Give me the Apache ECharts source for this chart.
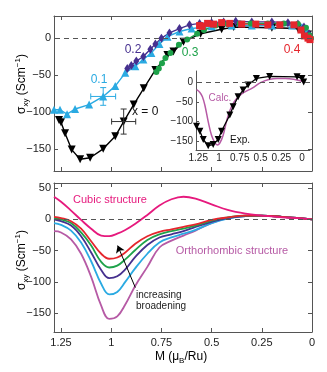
<!DOCTYPE html>
<html>
<head>
<meta charset="utf-8">
<script src="https://cdn.jsdelivr.net/npm/echarts@6/dist/echarts.min.js"></script>
<style>
  html, body { margin: 0; padding: 0; background: #fff; }
  #chart { width: 327px; height: 372px; }
</style>
</head>
<body>
<div id="chart"></div>
<script>
// top panel: measured sigma_xy vs M for several x
var x0M = [1.26, 1.25, 1.23, 1.197, 1.155, 1.105, 1.04, 0.98, 0.938, 0.888, 0.838, 0.78, 0.72, 0.69, 0.64, 0.555, 0.45, 0.39, 0.2, 0.07, 0.02];
var x0S = [-111, -114, -129, -151, -164, -162, -150, -133, -113, -90, -68, -43, -23, -18, -5, 6, 12, 15, 14, 13, 5];
var x1M = [1.285, 1.255, 1.22, 1.18, 1.11, 1.04, 0.98, 0.93, 0.88, 0.84, 0.8, 0.76, 0.72, 0.66, 0.6, 0.5, 0.4, 0.3, 0.2, 0.1, 0.05, 0.025, 0.01];
var x1S = [-97, -97, -103, -96, -90, -79, -65, -47, -38, -29, -20, -8, 2, 9, 13, 16, 17, 17, 17, 17, 15, 9, 3];
var x2M = [0.92, 0.9, 0.875, 0.84, 0.805, 0.78, 0.75, 0.71, 0.66, 0.61, 0.56, 0.5, 0.44, 0.38, 0.3, 0.2, 0.12, 0.07, 0.04, 0.015];
var x2S = [-41, -37, -31, -25, -15, -8, 0, 7, 13, 18, 20, 21, 22, 23, 22, 22, 21, 19, 15, 6];
var x3M = [0.775, 0.763, 0.747, 0.73, 0.705, 0.663, 0.622, 0.572, 0.538, 0.48, 0.42, 0.36, 0.305, 0.22, 0.14, 0.07, 0.03, 0.013, 0.005];
var x3S = [-46, -41, -34, -27, -20, -9, -2, 6, 11, 17, 19, 20, 20, 20, 20, 19, 14, 4, 0];
var x4M = [0.56, 0.547, 0.52, 0.49, 0.45, 0.41, 0.35, 0.28, 0.22, 0.16, 0.09, 0.055, 0.038, 0.02, 0.01];
var x4S = [17, 16, 20, 19, 21, 20, 19, 19, 18, 18, 18, 11, 3, 0, -2];

// error bars [M, sigma, dM, dSigma]
var errCyan = [1.04, -79, 0.062, 12];
var errBlack = [0.938, -113, 0.06, 17];

// inset: experiment vs calculation
var expM = [1.27, 1.23, 1.19, 1.13, 1.07, 1.01, 0.97, 0.87, 0.83, 0.77, 0.71, 0.65, 0.55, 0.39, 0.06, 0.0, -0.02];
var expS = [-112, -125, -146, -162, -159, -146, -125, -83, -62, -36, -19, -6, 11, 16, 15, 11, 2];
var calcM = [1.27, 1.23, 1.2, 1.17, 1.13, 1.09, 1.05, 1.02, 0.99, 0.95, 0.91, 0.87, 0.82, 0.76, 0.7, 0.6, 0.5, 0.4, 0.3, 0.2, 0.1, 0.02, -0.02];
var calcS = [-18, -25, -36, -58, -100, -135, -154, -160, -155, -135, -100, -72, -50, -35, -25, -14, 0, 8, 11, 11, 9, 5, 1];

// bottom panel: calculated curves
var bM = [1.285, 1.25, 1.2, 1.15, 1.1, 1.05, 1.01, 0.97, 0.93, 0.88, 0.82, 0.76, 0.7, 0.64, 0.58, 0.5, 0.42, 0.33, 0.25, 0.15, 0.07, 0];
var cubicS = [36, 28, 14, -1, -15, -26, -27, -23, -17, -7, 7, 22, 32, 36, 33, 24, 15, 9, 6, 3, 2, 0];
var redS = [4, 2, -3, -15, -35, -55, -63, -61, -53, -39, -27, -20, -16, -12, -8, -1, 3, 6, 6, 4, 2, 0];
var greenS = [2, 0, -6, -21, -42, -68, -77, -74, -64, -49, -33, -24, -19, -15, -10, -2, 3, 6, 6, 4, 2, 0];
var indigoS = [0, -3, -10, -27, -53, -81, -94, -91, -80, -60, -41, -29, -24, -19, -12, -4, 2, 5, 6, 4, 2, 0];
var cyanS = [-6, -9, -18, -37, -67, -103, -120, -116, -100, -78, -55, -37, -29, -23, -17, -6, 1, 5, 6, 4, 2, 0];
var orthoS = [-19, -21, -32, -55, -92, -138, -159, -155, -136, -106, -76, -45, -34, -26, -18, -6, 2, 6, 6, 4, 2, 0];

var mTicks = [0, 0.25, 0.5, 0.75, 1, 1.25];
var topTicks = [-150, -100, -50, 0];
var botTicks = [-150, -100, -50, 0, 50];

var C = {
  black: '#000000',
  cyan: '#2aaae2',
  indigo: '#46308f',
  green: '#1ea24a',
  red: '#e5262d',
  pink: '#e6197d',
  orchid: '#b65aa5'
};
var FONT = '"Liberation Sans", Arial, Helvetica, sans-serif';
var axisColor = '#555';

function zip(xs, ys) {
  return xs.map(function(x, i) { return [x, ys[i]]; });
}
function fmt(v) {
  return v < 0 ? '\u2212' + (-v) : String(v);
}
function xAx(grid, pos, min, max, labels, ticks) {
  return {
    type: 'value', gridIndex: grid, position: pos, inverse: true, min: min, max: max,
    axisLine: { show: true, onZero: false, lineStyle: { color: axisColor } },
    axisTick: { show: ticks, inside: true, length: 4, customValues: mTicks, lineStyle: { color: axisColor } },
    axisLabel: { show: labels, customValues: mTicks, formatter: fmt, color: '#222', fontSize: grid === 2 ? 10 : 11, margin: grid === 2 ? 3 : 5, fontFamily: FONT },
    splitLine: { show: false }
  };
}
function yAx(grid, pos, min, max, vals, labels, ticks) {
  return {
    type: 'value', gridIndex: grid, position: pos, min: min, max: max,
    axisLine: { show: true, onZero: false, lineStyle: { color: axisColor } },
    axisTick: { show: ticks, inside: true, length: grid === 2 ? 3 : 4, customValues: vals, lineStyle: { color: axisColor } },
    axisLabel: { show: labels, customValues: vals, formatter: fmt, color: '#222', fontSize: grid === 2 ? 10 : 11, margin: 3, fontFamily: FONT },
    splitLine: { show: false }
  };
}
function dataLine(name, xs, ys, color, symbol, size, extra) {
  var s = {
    name: name, type: 'line', xAxisIndex: 0, yAxisIndex: 0,
    data: zip(xs, ys), symbol: symbol, symbolSize: size,
    lineStyle: { color: color, width: 1.4 },
    itemStyle: { color: color },
    z: 3
  };
  return Object.assign(s, extra || {});
}
function calcLine(name, ys, color, extra) {
  var s = {
    name: name, type: 'line', xAxisIndex: 2, yAxisIndex: 2,
    data: zip(bM, ys), smooth: 0.4, showSymbol: false,
    lineStyle: { color: color, width: 1.8 }
  };
  return Object.assign(s, extra || {});
}
function errBar(e, color) {
  return {
    type: 'custom', xAxisIndex: 0, yAxisIndex: 0, z: 4,
    data: [e],
    renderItem: function(params, api) {
      var x = api.value(0), y = api.value(1), dx = api.value(2), dy = api.value(3);
      var l = api.coord([x + dx, y]), r = api.coord([x - dx, y]);
      var t = api.coord([x, y + dy]), b = api.coord([x, y - dy]);
      var st = { stroke: color, lineWidth: 1 };
      var cap = 3;
      return {
        type: 'group',
        children: [
          { type: 'line', shape: { x1: l[0], y1: l[1], x2: r[0], y2: r[1] }, style: st },
          { type: 'line', shape: { x1: t[0], y1: t[1], x2: b[0], y2: b[1] }, style: st },
          { type: 'line', shape: { x1: t[0] - cap, y1: t[1], x2: t[0] + cap, y2: t[1] }, style: st },
          { type: 'line', shape: { x1: b[0] - cap, y1: b[1], x2: b[0] + cap, y2: b[1] }, style: st },
          { type: 'line', shape: { x1: l[0], y1: l[1] - cap, x2: l[0], y2: l[1] + cap }, style: st },
          { type: 'line', shape: { x1: r[0], y1: r[1] - cap, x2: r[0], y2: r[1] + cap }, style: st }
        ]
      };
    }
  };
}
function zeroLine() {
  return {
    silent: true, symbol: ['none', 'none'], label: { show: false },
    lineStyle: { color: '#555', width: 1, type: [5, 4] },
    data: [{ yAxis: 0 }]
  };
}
function txt(x, y, s, color, size, align) {
  return {
    type: 'text', x: x, y: y, z: 10,
    style: { text: s, fill: color, font: size + 'px ' + FONT, align: align || 'center', verticalAlign: 'middle' }
  };
}
var sigmaRich = {
  a: { fontSize: 12, fontFamily: FONT, color: '#222', lineHeight: 20 },
  sub: { fontSize: 8, fontFamily: FONT, color: '#222', lineHeight: 20, verticalAlign: 'bottom', padding: [0, 0, 2, 0] },
  sup: { fontSize: 8, fontFamily: FONT, color: '#222', lineHeight: 20, verticalAlign: 'top', padding: [2, 0, 0, 0] }
};
function sigmaLabel(x, y) {
  return {
    type: 'text', x: x, y: y, rotation: Math.PI / 2, z: 10,
    style: { text: '{a|\u03c3}{sub|xy}{a| (Scm}{sup|\u22121}{a|)}', rich: sigmaRich, align: 'center', verticalAlign: 'middle' }
  };
}

var chart = echarts.init(document.getElementById('chart'));
var option = {
  animation: false,
  backgroundColor: '#fff',
  grid: [
    { left: 54, top: 16, width: 258, height: 155 },
    { left: 54, top: 183, width: 258, height: 149 },
    { left: 196, top: 71, width: 114, height: 79 }
  ],
  xAxis: [
    xAx(0, 'bottom', 0, 1.285, false, true),
    xAx(0, 'top', 0, 1.285, false, true),
    xAx(1, 'bottom', 0, 1.285, true, true),
    xAx(1, 'top', 0, 1.285, false, true),
    xAx(2, 'bottom', -0.096, 1.277, true, false)
  ],
  yAxis: [
    yAx(0, 'left', -180, 30, topTicks, true, true),
    yAx(0, 'right', -180, 30, topTicks, false, true),
    yAx(1, 'left', -180, 58, botTicks, true, true),
    yAx(1, 'right', -180, 58, botTicks, false, true),
    yAx(2, 'left', -173, 30, topTicks, true, true)
  ],
  series: [
    dataLine('x=0', x0M, x0S, C.black, 'triangle', 8, { symbolRotate: 180, markLine: zeroLine() }),
    dataLine('x=0.1', x1M, x1S, C.cyan, 'triangle', 8),
    dataLine('x=0.2', x2M, x2S, C.indigo, 'diamond', [6, 9]),
    dataLine('x=0.3', x3M, x3S, C.green, 'circle', 6),
    dataLine('x=0.4', x4M, x4S, C.red, 'rect', 7),
    errBar(errCyan, C.cyan),
    errBar(errBlack, '#333'),
    {
      name: 'Calc.', type: 'line', xAxisIndex: 4, yAxisIndex: 4,
      data: zip(calcM, calcS), smooth: 0.4, showSymbol: false,
      lineStyle: { color: C.orchid, width: 1.5 },
      markLine: zeroLine()
    },
    {
      name: 'Exp.', type: 'line', xAxisIndex: 4, yAxisIndex: 4,
      data: zip(expM, expS), symbol: 'triangle', symbolRotate: 180, symbolSize: 7,
      lineStyle: { color: C.black, width: 1.3 }, itemStyle: { color: C.black }
    },
    calcLine('ortho', orthoS, C.orchid, {
      markLine: {
        silent: true, symbol: ['none', 'arrow'], symbolSize: 7, label: { show: false },
        lineStyle: { color: '#000', width: 1, type: 'solid' },
        data: [[{ coord: [0.88, -109] }, { coord: [0.968, -42] }]]
      }
    }),
    calcLine('cyan', cyanS, C.cyan),
    calcLine('indigo', indigoS, C.indigo),
    calcLine('green', greenS, C.green),
    calcLine('red', redS, C.red),
    calcLine('cubic', cubicS, C.pink, { markLine: zeroLine() })
  ],
  graphic: [
    sigmaLabel(22, 84),
    sigmaLabel(22, 260),
    {
      type: 'text', x: 181, y: 357, z: 10,
      style: {
        text: '{a|M (\u03bc}{sub|B}{a|/Ru)}',
        rich: sigmaRich, align: 'center', verticalAlign: 'middle'
      }
    },
    txt(99, 80, '0.1', C.cyan, 12),
    txt(133, 50, '0.2', C.indigo, 12),
    txt(190, 53, '0.3', C.green, 12),
    txt(292, 50, '0.4', C.red, 12),
    txt(132, 112, 'x = 0', '#111', 12, 'left'),
    txt(220, 98, 'Calc.', C.orchid, 10),
    txt(240, 140, 'Exp.', '#111', 10),
    txt(110, 200, 'Cubic structure', C.pink, 11),
    txt(232, 251, 'Orthorhombic structure', C.orchid, 11),
    txt(136, 295, 'increasing', '#222', 10, 'left'),
    txt(136, 306, 'broadening', '#222', 10, 'left')
  ]
};
chart.setOption(option);
</script>
</body>
</html>
